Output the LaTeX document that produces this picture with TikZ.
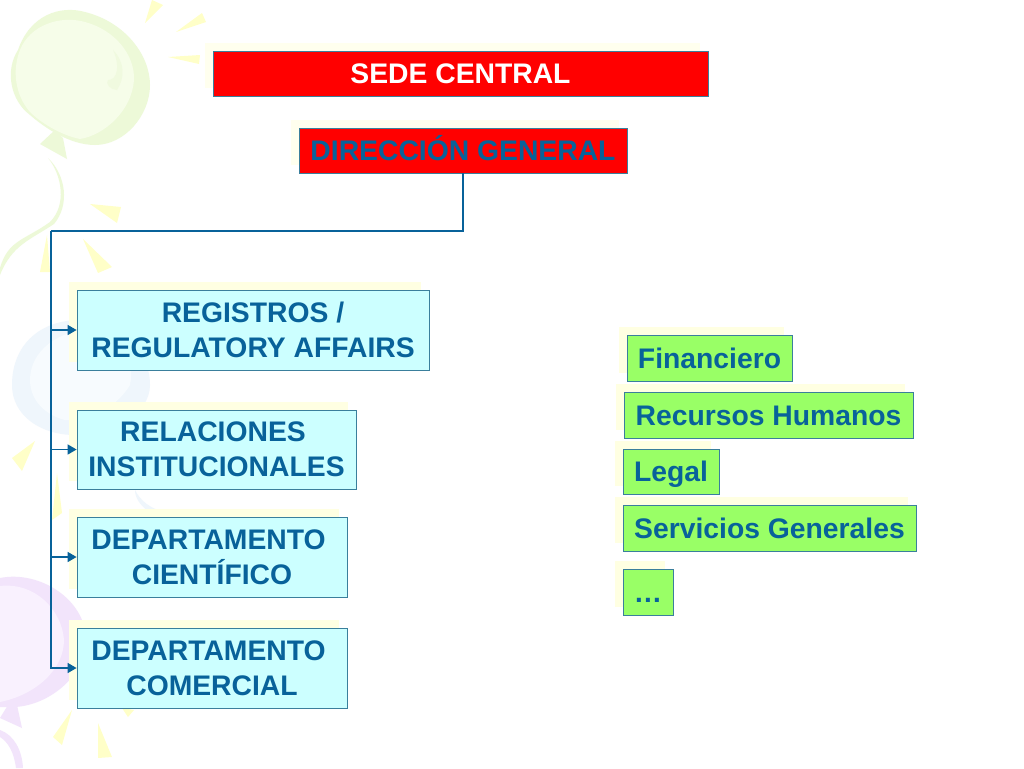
\documentclass[tikz,border=0pt]{standalone}
\usepackage{fontspec}
\setmainfont{Liberation Sans}
\usetikzlibrary{shadows,arrows.meta}
\definecolor{ink}{HTML}{08629A}
\definecolor{edge}{HTML}{3A7F9C}
\definecolor{halo}{HTML}{FFFFE2}
\definecolor{halored}{HTML}{FFFFEE}
\definecolor{ray}{HTML}{FFFFC8}
\definecolor{cyanbox}{HTML}{CCFFFF}
\definecolor{greenbox}{HTML}{99FF66}
\definecolor{shine}{HTML}{4FA3D1}
\definecolor{gA}{HTML}{EDF9D8}
\definecolor{gB}{HTML}{F6FDE9}
\definecolor{gC}{HTML}{F0FADF}
\definecolor{bA}{HTML}{EFF6FC}
\definecolor{bB}{HTML}{F7FBFE}
\definecolor{pA}{HTML}{F2E4FB}
\definecolor{pB}{HTML}{F9F1FE}
\tikzset{
  base/.style={draw=edge,line width=0.8pt,inner sep=0pt,align=center,font=\fontsize{28.3}{34.5}\selectfont\bfseries,text=ink,
    copy shadow={shadow xshift=-8pt,shadow yshift=8pt,fill=halo,draw=none}},
  redbox/.style={base,fill=red,text height=21.5pt,text depth=2pt,
    copy shadow={shadow xshift=-8pt,shadow yshift=8pt,fill=halored,draw=none}},
  bluebox/.style={base,fill=cyanbox},
  grnbox/.style={base,fill=greenbox,text height=22pt,text depth=2pt},
  conn/.style={draw=ink,line width=1.5pt},
  arr/.style={conn,-{Triangle[length=9pt,width=10pt]}},
}
\begin{document}
\begin{tikzpicture}[x=1pt,y=-1pt]
\useasboundingbox (0,0) rectangle (1024,768);
\fill[white] (0,0) rectangle (1024,768);
% rays
\fill[ray] (145,23)--(152,0)--(163,5)--cycle;
\fill[ray] (176,32)--(202,13)--(206,22)--cycle;
\fill[ray] (168,57)--(200,55)--(199,64)--cycle;
\fill[ray] (90,204)--(121,207)--(117,223)--cycle;
\fill[ray] (83,239)--(112,267)--(98,273)--cycle;
\fill[ray] (47,235)--(40,272)--(50,272)--cycle;
\fill[ray] (35,441)--(12,458)--(22,471)--cycle;
\fill[ray] (57,473)--(52,520)--(62,513)--cycle;
\fill[ray] (72,710)--(53,737)--(62,745)--cycle;
\fill[ray] (98,723)--(98,758)--(112,757)--cycle;
\fill[ray] (122,708)--(134,710)--(128,717)--cycle;
% green balloon
\fill[gA] (18,50) .. controls (30,15) and (60,5) .. (85,12) .. controls (125,22) and (150,55) .. (150,85)
  .. controls (150,115) and (125,145) .. (95,145) .. controls (70,145) and (45,128) .. (30,115)
  .. controls (10,100) and (5,70) .. (18,50) -- cycle;
\fill[gB] (20,50) .. controls (30,25) and (60,15) .. (85,22) .. controls (115,30) and (135,55) .. (134,80)
  .. controls (132,110) and (105,135) .. (80,139) .. controls (60,135) and (40,122) .. (30,112)
  .. controls (15,95) and (12,70) .. (20,50) -- cycle;
\fill[gC] (113,50) .. controls (125,62) and (125,78) .. (117,90) .. controls (110,90) and (105,83) .. (108,80)
  .. controls (118,80) and (120,65) .. (113,50) -- cycle;
\fill[gA] (55,130)--(40,144)--(67,159)--(63,138)--cycle;
\fill[gA] (48,158) .. controls (62,175) and (67,205) .. (50,222) .. controls (25,240) and (8,240) .. (0,268)
  -- (0,275) .. controls (12,245) and (30,240) .. (54,224) .. controls (70,205) and (66,175) .. (48,158) -- cycle;
% blue balloon
\fill[bA] (12,385) .. controls (12,345) and (40,320) .. (80,320) .. controls (120,320) and (150,350) .. (150,385)
  .. controls (150,415) and (110,435) .. (75,435) .. controls (40,435) and (12,415) .. (12,385) -- cycle;
\fill[bB] (30,380) .. controls (30,350) and (60,330) .. (90,330) .. controls (125,335) and (135,360) .. (130,385)
  .. controls (115,410) and (85,422) .. (65,420) .. controls (45,415) and (30,400) .. (30,380) -- cycle;
\fill[bA] (135,490) .. controls (140,500) and (150,510) .. (170,513) -- (150,513) .. controls (140,505) and (135,498) .. (135,490) -- cycle;
% purple balloon
\fill[pA] (0,578) .. controls (40,570) and (86,600) .. (86,640) .. controls (86,675) and (50,705) .. (15,707) -- (0,707) -- cycle;
\fill[pB] (0,586) .. controls (35,582) and (62,610) .. (64,640) .. controls (64,670) and (35,695) .. (0,702) -- cycle;
\fill[pA] (8,705)--(0,718)--(22,728)--(17,705)--cycle;
\fill[pA] (0,730) .. controls (14,735) and (22,750) .. (23,768) -- (16,768) .. controls (14,752) and (8,742) .. (0,737) -- cycle;
% boxes
\node[redbox,text=white,minimum width=495pt,minimum height=45pt] (sede) at (460.5,73.5) {SEDE CENTRAL};
\node[redbox,minimum width=328pt,minimum height=45pt] (dir) at (463,150.5) {DIRECCIÓN GENERAL};
\node[bluebox,minimum width=352pt,minimum height=80pt] (reg) at (253,330) {REGISTROS /\\REGULATORY AFFAIRS};
\node[bluebox,minimum width=279pt,minimum height=79pt] (rel) at (216.5,449.5) {\mbox{RELACIONES\kern7pt}\\INSTITUCIONALES};
\node[bluebox,minimum width=270pt,minimum height=80pt] (cie) at (212,557) {\mbox{DEPARTAMENTO\kern7pt}\\CIENTÍFICO};
\node[bluebox,minimum width=270pt,minimum height=80pt] (com) at (212,668) {\mbox{DEPARTAMENTO\kern7pt}\\COMERCIAL};
\node[grnbox,minimum width=165pt,minimum height=46pt] (fin) at (709.5,358) {Financiero};
\node[grnbox,minimum width=289pt,minimum height=46pt] (rh) at (768.5,415) {Recursos Humanos};
\node[grnbox,minimum width=96pt,minimum height=45pt] (leg) at (671,471.5) {Legal};
\node[grnbox,minimum width=293pt,minimum height=46pt] (sg) at (769.5,528) {Servicios Generales};
\node[grnbox,minimum width=50pt,minimum height=46pt] (etc) at (648,592) {…};
% connectors
\coordinate (bus) at (51,231);
\draw[draw=shine,line width=1.6pt,shift={(-0.6,-1.2)}] (dir.south) |- (bus);
\draw[conn,line width=2.2pt] (dir.south) |- (bus);
\draw[arr] (bus) |- (reg.west);
\draw[arr] (bus) |- (rel.west);
\draw[arr] (bus) |- (cie.west);
\draw[arr] (bus) |- (com.west);
\end{tikzpicture}
\end{document}
